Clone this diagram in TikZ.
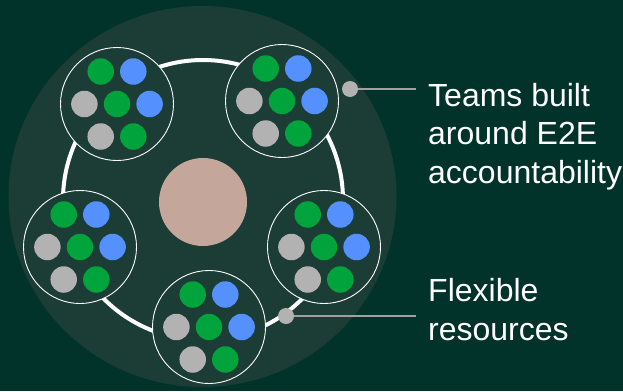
\documentclass[tikz,border=0pt]{standalone}
\usepackage{fontspec}
\setmainfont{Liberation Sans}
\usetikzlibrary{calc}

\definecolor{bgdark}{RGB}{2,51,43}
\definecolor{podfill}{RGB}{27,61,53}
\definecolor{teamgreen}{RGB}{0,163,60}
\definecolor{teamblue}{RGB}{85,144,255}
\definecolor{teamgray}{RGB}{178,178,178}
\definecolor{corepink}{RGB}{196,166,155}
\definecolor{leadergray}{RGB}{160,160,160}

\tikzstyle{team} = [circle, draw=white, line width=0.9pt, fill=podfill, minimum size=113pt, inner sep=0pt]
\tikzstyle{member} = [circle, minimum size=26.5pt, inner sep=0pt]
\tikzstyle{callout} = [circle, fill=teamgray, minimum size=16pt, inner sep=0pt]
\tikzstyle{leader} = [draw, line width=1.2pt, leadergray]
\tikzstyle{caption} = [anchor=base west, inner sep=0pt, align=left, text=white, font=\fontsize{32}{38.5}\selectfont]

\begin{document}
\begin{tikzpicture}[x=1pt,y=-1pt]
       \useasboundingbox (0,0) rectangle (623,391);
       \clip (0,0) rectangle (623,391);
       \fill[bgdark] (0,0) rectangle (623,391);
       \coordinate (centre) at (203,200);
       \fill[podfill] (202.5,196.5) ellipse[x radius=194pt, y radius=190.5pt];
       \draw[white, line width=4pt] (centre) circle[radius=140pt];
       \node[circle, fill=corepink, minimum size=88pt, inner sep=0pt] (core) at (203,202) {};
       \foreach \pos/\name in {{(117,104)/tl}, {(282,101)/tr}, {(80,247)/ml}, {(324,247)/mr}, {(209,327)/bt}} {
           \node[team] (\name) at \pos {};
           \foreach \dx/\dy/\col/\i in {-16.3/-32.5/teamgreen/1, 16.3/-32.5/teamblue/2, -32.6/0/teamgray/3, 0/0/teamgreen/4, 32.6/0/teamblue/5, -16.3/32.5/teamgray/6, 16.3/32.5/teamgreen/7} {
               \node[member, fill=\col] (\name-\i) at ($(\name)+(\dx,\dy)$) {};
           }
       }
       % callouts
       \node[callout] (teamsdot) at (350,89) {};
       \node[callout] (flexdot) at (286,316) {};
       \coordinate (teamsend) at (416,89);
       \coordinate (flexend) at (416,316);
       \path[leader] (teamsdot) -- (teamsend);
       \path[leader] (flexdot) -- (flexend);
       \node[caption] (teams) at (428,183) {Teams built\\around E2E\\accountability};
       \node[caption] (flex) at (428,340) {Flexible\\resources};
\end{tikzpicture}
\end{document}
